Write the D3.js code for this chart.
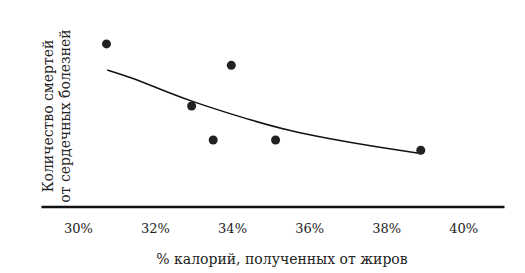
<!DOCTYPE html>
<html>
<head>
<meta charset="utf-8">
<script src="https://cdn.jsdelivr.net/npm/d3@7"></script>
<style>
  body { margin: 0; background: #fff; }
  svg { display: block; }
</style>
</head>
<body>
<svg id="chart" width="525" height="273"></svg>
<script>
// Data (x = % of calories from fat, y = relative deaths, no scale shown)
const fatPct = [30.74, 32.95, 33.51, 33.98, 35.13, 38.90];
const deaths = [9.06, 5.61, 3.72, 7.87, 3.72, 3.15];

// fitted trend curve
const trendX = [30.76, 31.36, 32.14, 32.92, 33.70, 34.48, 35.51, 36.55, 37.59, 38.90];
const trendY = [7.61, 7.21, 6.54, 5.89, 5.35, 4.83, 4.22, 3.78, 3.39, 2.97];

const xTicks = [30, 32, 34, 36, 38, 40];
const xLabel = '% калорий, полученных от жиров';
const yLabel = ['Количество смертей', 'от сердечных болезней'];

const svg = d3.select('#chart');
const font = "'DejaVu Serif', serif";

//Scales
const x = d3.scaleLinear()
    .domain([29.04, 41.06])
    .range([41, 504]);

const y = d3.scaleLinear()
    .domain([0, 10])
    .range([207, 27]);

//X axis
const xAxis = svg.append('g')
    .attr('transform', 'translate(0,206.5)')
    .call(d3.axisBottom(x)
        .tickValues(xTicks)
        .tickFormat(d => d + '%')
        .tickSizeInner(0)
        .tickSizeOuter(0)
        .tickPadding(17));

xAxis.select('.domain')
    .style('stroke', '#111')
    .style('stroke-width', 2.5);

xAxis.selectAll('text')
    .style('font-family', font)
    .style('font-size', '13px')
    .style('fill', '#222');

//Trend line
const line = d3.line()
    .x(d => x(d[0]))
    .y(d => y(d[1]))
    .curve(d3.curveBasis);

svg.append('path')
    .datum(trendX.map((v, i) => [v, trendY[i]]))
    .attr('d', line)
    .style('fill', 'none')
    .style('stroke', '#111')
    .style('stroke-width', 1.5);

//Points
svg.selectAll('circle')
    .data(fatPct.map((v, i) => [v, deaths[i]]))
    .enter().append('circle')
    .attr('cx', d => x(d[0]))
    .attr('cy', d => y(d[1]))
    .attr('r', 4.5)
    .style('fill', '#222');

//Axis labels
svg.append('text')
    .attr('x', 282)
    .attr('y', 264)
    .attr('text-anchor', 'middle')
    .text(xLabel)
    .style('font-family', font)
    .style('font-size', '14px')
    .style('fill', '#222');

const yl = svg.append('text')
    .attr('transform', 'translate(0,116) rotate(-90)')
    .attr('text-anchor', 'middle')
    .style('font-family', font)
    .style('font-size', '14px')
    .style('fill', '#222');

yl.selectAll('tspan')
    .data(yLabel)
    .enter().append('tspan')
    .attr('x', 0)
    .attr('y', (d, i) => i == 0 ? 53 : 70)
    .text(d => d);
</script>
</body>
</html>
